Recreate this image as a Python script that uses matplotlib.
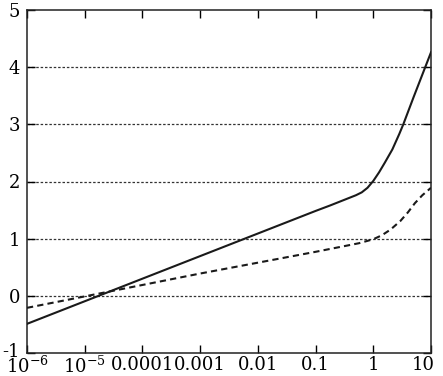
import matplotlib
matplotlib.use('Agg')
import matplotlib.pyplot as plt
import matplotlib.transforms as mtransforms
import numpy as np

# values (x in decades, log10 x)
logx_solid = [-6, -5, -4, -3, -2, -1, -0.75, -0.5, -0.3, -0.2, -0.1, 0.0,
              0.1, 0.2, 0.33, 0.45, 0.52, 0.7, 0.9, 1.0]
y_solid    = [-0.49, -0.095, 0.30, 0.695, 1.09, 1.485, 1.58, 1.68, 1.76, 1.81, 1.89, 2.01,
              2.16, 2.33, 2.56, 2.83, 3.0, 3.48, 4.0, 4.26]

logx_dash = [-6, -5, -4, -3, -2, -1, -0.5, -0.25, 0.0,
             0.15, 0.3, 0.47, 0.6, 0.72, 0.85, 1.0]
y_dash    = [-0.21, -0.01, 0.19, 0.39, 0.58, 0.77, 0.87, 0.92, 0.99,
             1.06, 1.16, 1.31, 1.46, 1.62, 1.76, 1.89]

xticks = [1e-6, 1e-5, 1e-4, 1e-3, 1e-2, 1e-1, 1, 10]
xticklabels = [r'$\mathregular{10^{-6}}$', r'$\mathregular{10^{-5}}$',
               '0.0001', '0.001', '0.01', '0.1', '1', '10']
yticks = [-1, 0, 1, 2, 3, 4, 5]

plt.rcParams.update({
    'font.family': 'DejaVu Serif',
    'mathtext.fontset': 'dejavuserif',
    'font.size': 13,
    'axes.unicode_minus': False,
})

fig = plt.figure(figsize=(4.43, 3.76), dpi=100)
ax = fig.add_axes([27 / 443, 1 - 353 / 376, (431 - 27) / 443, (353 - 10) / 376])

ax.set_xscale('log')
ax.set_xlim(1e-6, 10)
ax.set_ylim(-1, 5)

for yv in yticks[1:-1]:
    ax.axhline(yv, color='#333333', linestyle=(0, (2, 1.5)), linewidth=0.9, zorder=1)

ax.plot(10 ** np.array(logx_solid), y_solid, '-', color='#1a1a1a', linewidth=1.5, zorder=3)
ax.plot(10 ** np.array(logx_dash), y_dash, color='#1a1a1a', linewidth=1.5,
        linestyle=(0, (3, 2)), zorder=3)

ax.set_xticks(xticks)
ax.set_xticklabels(xticklabels)
ax.xaxis.set_minor_locator(matplotlib.ticker.NullLocator())
ax.set_yticks(yticks)
ax.tick_params(which='both', direction='in', top=True, right=True, length=6,
               width=1, labelsize=13)
ax.tick_params(axis='x', pad=2)
ax.tick_params(axis='y', pad=5)

# nudge the last x label so it stays inside the figure
last = ax.get_xticklabels()[-1]
last.set_transform(last.get_transform() + mtransforms.ScaledTranslation(-8 / 100, 0, fig.dpi_scale_trans))
# and lift the bottom y label a little off the x labels
low = ax.get_yticklabels()[0]
low.set_transform(low.get_transform() + mtransforms.ScaledTranslation(0, 3 / 100, fig.dpi_scale_trans))

for s in ax.spines.values():
    s.set_linewidth(1.1)
    s.set_color('#222222')

fig.savefig('out.png', dpi=100)
